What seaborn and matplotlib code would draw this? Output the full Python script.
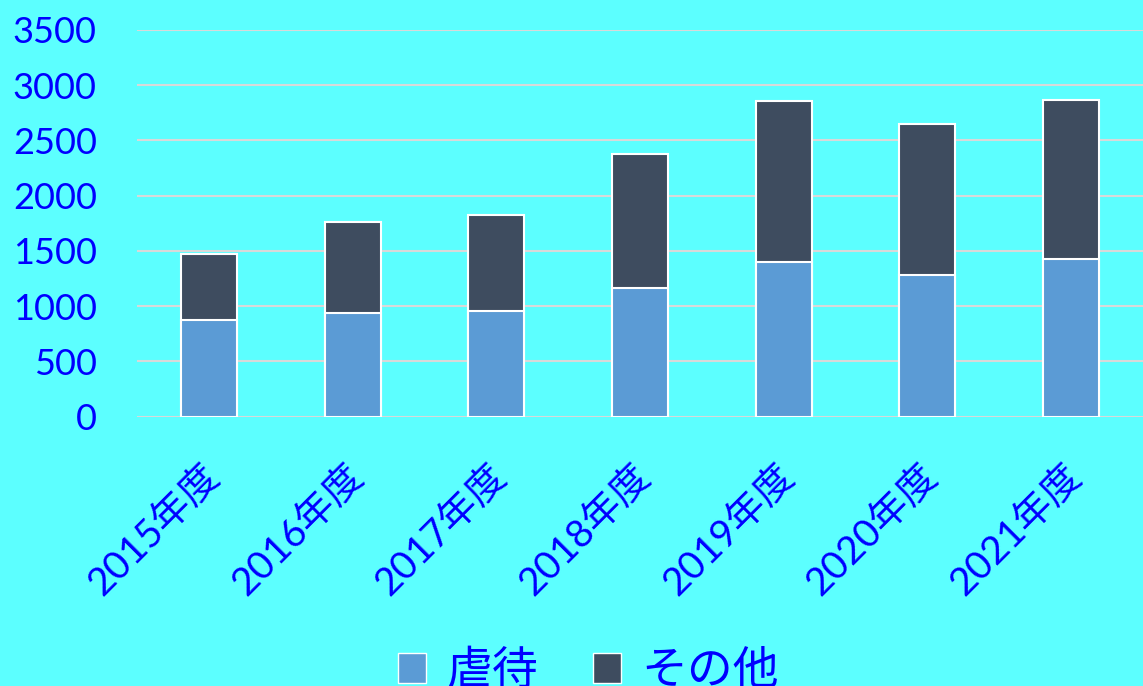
import matplotlib
matplotlib.use("Agg")
import matplotlib.pyplot as plt
import matplotlib.transforms as mtransforms
import seaborn as sns
import pandas as pd
from matplotlib.patches import Patch

categories = ["2015年度", "2016年度", "2017年度", "2018年度", "2019年度", "2020年度", "2021年度"]
abuse = [876, 942, 955, 1163, 1398, 1283, 1428]
other = [595, 820, 872, 1214, 1455, 1362, 1440]
series_names = ["虐待", "その他"]
yticks = [0, 500, 1000, 1500, 2000, 2500, 3000, 3500]

bg = "#5CFFFF"
c_abuse = "#5B9BD5"
c_other = "#3E4C5F"
txt = "#0000FF"

sns.set_theme(style="white")
plt.rcParams["font.family"] = ["Lato", "Noto Sans CJK JP", "DejaVu Sans"]

df = pd.DataFrame({"year": categories, "abuse": abuse, "other": other})
df["total"] = df["abuse"] + df["other"]

fig = plt.figure(figsize=(11.43, 6.86), dpi=100, facecolor=bg)
ax = fig.add_axes([0.12, 0.3926, 0.88, 0.5637])
ax.set_facecolor(bg)

sns.barplot(data=df, x="year", y="total", color=c_other, width=0.39,
            edgecolor="white", linewidth=1.5, saturation=1, ax=ax, zorder=3)
sns.barplot(data=df, x="year", y="abuse", color=c_abuse, width=0.39,
            edgecolor="white", linewidth=1.5, saturation=1, ax=ax, zorder=4)

ax.set_ylim(0, 3500)
ax.set_xlim(-0.5, len(categories) - 0.5)
ax.set_yticks(yticks)
ax.set_yticklabels([str(v) for v in yticks], fontsize=26, color=txt)
ax.yaxis.grid(True, color="#D9D9D9", linewidth=1.5)
ax.set_axisbelow(True)
for s in ax.spines.values():
    s.set_visible(False)
ax.tick_params(axis="y", length=0, pad=29)
ax.tick_params(axis="x", length=0, pad=30)
ax.set_xlabel("")
ax.set_ylabel("")
shift = mtransforms.ScaledTranslation(-8 / 100, 0, fig.dpi_scale_trans)
for lab in ax.get_xticklabels():
    lab.set_rotation(45)
    lab.set_ha("right")
    lab.set_rotation_mode("anchor")
    lab.set_fontsize(28)
    lab.set_color(txt)
    lab.set_transform(lab.get_transform() + shift)

handles = [Patch(facecolor=c_abuse, edgecolor="white", linewidth=1.0),
           Patch(facecolor=c_other, edgecolor="white", linewidth=1.0)]
fig.legend(handles, series_names, loc="center", bbox_to_anchor=(0.515, 0.022),
           ncol=2, frameon=False, labelcolor=txt,
           handlelength=0.6, handleheight=0.6, handletextpad=0.45, columnspacing=1.2,
           prop={"family": ["Noto Sans CJK JP"], "size": 33})

fig.savefig("out.png", dpi=100, facecolor=bg)
